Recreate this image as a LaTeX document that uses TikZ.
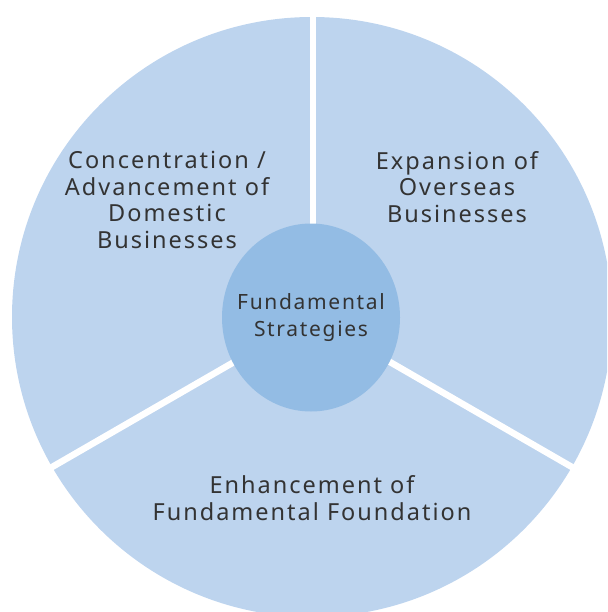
\documentclass[tikz,border=0pt]{standalone}
\usepackage{fontspec}
\setmainfont{Noto Sans}
\newfontfamily\labfont{Noto Sans}[LetterSpace=8.5]
\newfontfamily\corefont{Noto Sans}[LetterSpace=8]
\usetikzlibrary{shapes.geometric,calc}
\definecolor{outerblue}{HTML}{BDD4EE}
\definecolor{innerblue}{HTML}{93BCE4}
\definecolor{txtgray}{HTML}{333333}
\begin{document}
\begin{tikzpicture}[x=1pt,y=-1pt,
  lab/.style={text=txtgray, align=center, font=\labfont\fontsize{23.5}{26.7}\selectfont},
  sep/.style={white, line width=6.5pt},
  corestyle/.style={ellipse, fill=innerblue, minimum width=178pt, minimum height=188pt,
     inner xsep=-20pt, inner ysep=0pt,
     text=txtgray, align=center, font=\corefont\fontsize{21}{27}\selectfont}]
\useasboundingbox (0,0) rectangle (607,612);
\clip (0,0) rectangle (607,612);
\coordinate (c) at (312,317);
\fill[outerblue] (c) circle[radius=300];
\coordinate (top) at (313,0);
\coordinate (ll) at ($(c)+(-285,164.5)$);
\coordinate (lr) at ($(c)+(285,164.5)$);
\draw[sep] (313,317) -- (top);
\draw[sep] (c) -- (ll);
\draw[sep] (c) -- (lr);
\node[corestyle] (core) at (311,317.5) {Fundamental\\Strategies};
\node[lab] (dom) at (167,200) {Concentration /\\Advancement of\\Domestic\\Businesses};
\node[lab] (ovs) at (457,187) {Expansion of\\Overseas\\Businesses};
\node[lab] (fnd) at (312,498) {Enhancement of\\Fundamental Foundation};
\end{tikzpicture}
\end{document}
